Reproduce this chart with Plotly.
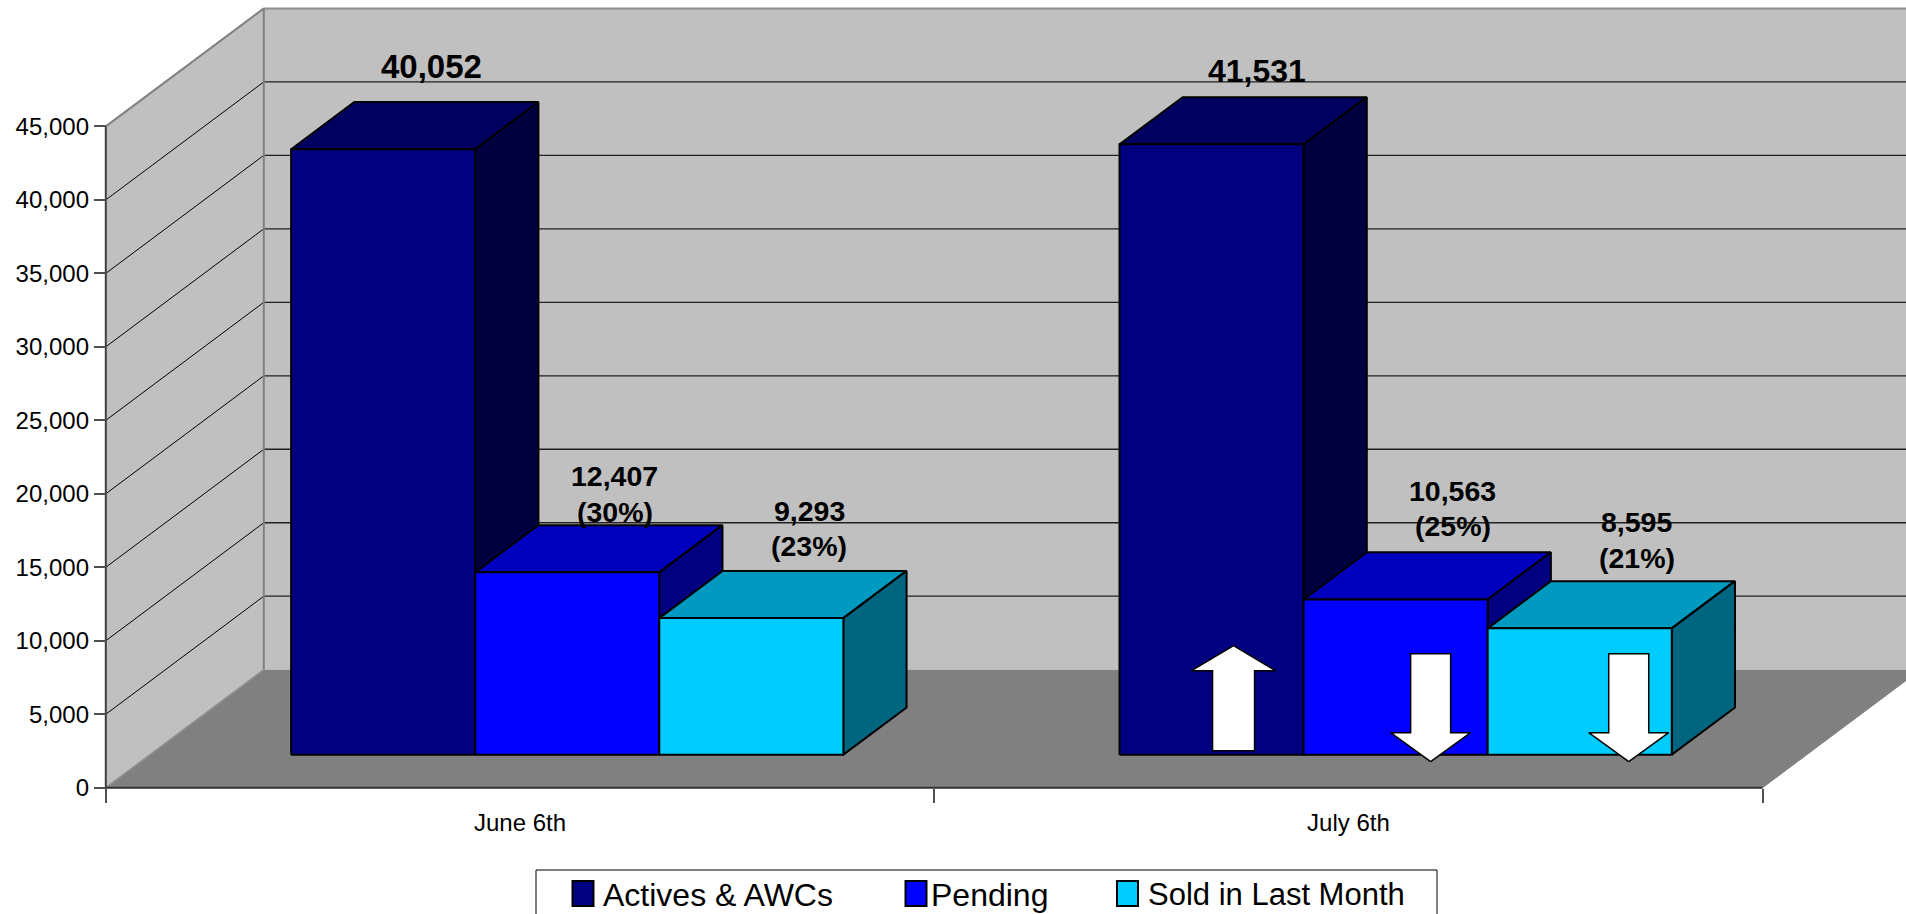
import plotly.graph_objects as go

# ---------- data ----------
categories = ["June 6th", "July 6th"]
series_names = ["Actives & AWCs", "Pending", "Sold in Last Month"]
actives = [41200, 41531]   # June's column is drawn taller than its printed label
pending = [12407, 10563]
sold = [9293, 8595]
actives_labels = ["40,052", "41,531"]
pending_labels = ["12,407<br>(30%)", "10,563<br>(25%)"]
sold_labels = ["9,293<br>(23%)", "8,595<br>(21%)"]
y_ticks = [0, 5000, 10000, 15000, 20000, 25000, 30000, 35000, 40000, 45000]
y_tick_text = ["0", "5,000", "10,000", "15,000", "20,000", "25,000", "30,000", "35,000", "40,000", "45,000"]
july_arrows = ["up", "down", "down"]

# ---------- styles ----------
front_colors = ["#000080", "#0000FF", "#00CCFF"]
top_colors = ["#000060", "#0000BF", "#0099BF"]
side_colors = ["#000040", "#000080", "#006680"]
WALL = "#C0C0C0"
FLOOR = "#808080"
FONT = "Liberation Sans, Arial, sans-serif"

# ---------- layout geometry ----------
W, H = 1906, 914
X0_PX, Y0_PX, Y45_PX = 105.8, 787.7, 126.4
CAT_PX = 828.4
DEPTH_X_PX, DEPTH_Y_PX = 158.0, 118.0
px_per_unit = (Y0_PX - Y45_PX) / 45000.0
DX = DEPTH_X_PX / CAT_PX
DY = DEPTH_Y_PX / px_per_unit
YMAX = 45000
xrange_ = [-X0_PX / CAT_PX, (W - X0_PX) / CAT_PX]
yrange_ = [-(H - Y0_PX) / px_per_unit, Y0_PX / px_per_unit]
BAR_W = 2 / 9
BAR_GAP = 1 / 6 + 3 / CAT_PX
D_FRONT, D_BACK = 0.28, 0.68


def P(x, y, d=0.0):
    return x + d * DX, y + d * DY


fig = go.Figure()


def poly(points, fill, line=None, width=0):
    xs = [p[0] for p in points] + [points[0][0]]
    ys = [p[1] for p in points] + [points[0][1]]
    fig.add_trace(go.Scatter(
        x=xs, y=ys, mode="lines", fill="toself", fillcolor=fill,
        line=dict(color=line or fill, width=width if line else 0),
        showlegend=False, hoverinfo="skip"))


def seg(a, b, color, width):
    fig.add_trace(go.Scatter(
        x=[a[0], b[0]], y=[a[1], b[1]], mode="lines",
        line=dict(color=color, width=width), showlegend=False, hoverinfo="skip"))


# walls and floor
poly([P(0, 0), P(0, YMAX), P(0, YMAX, 1), P(0, 0, 1)], WALL)
poly([P(0, 0, 1), P(0, YMAX, 1), P(2, YMAX, 1), P(2, 0, 1)], WALL)
poly([P(0, 0), P(2, 0), P(2, 0, 1), P(0, 0, 1)], FLOOR)

# gridlines
for t in y_ticks[1:-1]:
    seg(P(0, t), P(0, t, 1), "#000000", 1)
    seg(P(0, t, 1), P(2, t, 1), "#202020", 1.3)

# wall edges
seg(P(0, YMAX), P(0, YMAX, 1), "#808080", 2)
seg(P(0, YMAX, 1), P(2, YMAX, 1), "#909090", 2)
seg(P(0, 0, 1), P(0, YMAX, 1), "#808080", 2)
seg(P(0, 0), P(0, 0, 1), "#909090", 1.5)
seg(P(2, 0), P(2, 0, 1), "#808080", 1)
seg(P(0, 0), P(0, YMAX), "#404040", 2)
seg(P(0, 0), P(2, 0), "#303030", 2)

# columns, back to front
all_series = [actives, pending, sold]
for c in range(len(categories)):
    for s, values in enumerate(all_series):
        v = values[c]
        x1 = c + BAR_GAP + s * BAR_W
        x2 = x1 + BAR_W
        poly([P(x1, v, D_FRONT), P(x2, v, D_FRONT), P(x2, v, D_BACK), P(x1, v, D_BACK)],
             top_colors[s], "#000000", 2)
        poly([P(x2, 0, D_FRONT), P(x2, v, D_FRONT), P(x2, v, D_BACK), P(x2, 0, D_BACK)],
             side_colors[s], "#000000", 2)
        poly([P(x1, 0, D_FRONT), P(x1, v, D_FRONT), P(x2, v, D_FRONT), P(x2, 0, D_FRONT)],
             front_colors[s], "#000000", 2)

# hand-drawn arrows on the July columns (offsets in px from each column's front centre / base)
arrow_shift = [22, 35, 49]
for s, direction in enumerate(july_arrows):
    xc = 1 + BAR_GAP + (s + 0.5) * BAR_W + D_FRONT * DX + arrow_shift[s] / CAT_PX
    yb = D_FRONT * DY

    def A(dx_px, up_px):
        return xc + dx_px / CAT_PX, yb + up_px / px_per_unit

    if direction == "up":
        pts = [A(0, 109), A(42, 84), A(21, 84), A(21, 4), A(-21, 4), A(-21, 84), A(-42, 84)]
    else:
        pts = [A(0, -7), A(40, 22), A(20, 22), A(20, 101), A(-20, 101), A(-20, 22), A(-40, 22)]
    poly(pts, "#FFFFFF", "#000000", 1.5)

# legend entries (one legend per entry, to reproduce the uneven spacing); the legend's
# marker size is capped, so a taller outlined swatch sits underneath each small marker
legend_px = [563, 891, 1108]
legend_sizes = [32, 32, 31]
swatch_px = [583, 916, 1127.5]
for s, name in enumerate(series_names):
    fig.add_trace(go.Scatter(
        x=[None], y=[None], mode="markers", name=name,
        legend="legend" if s == 0 else f"legend{s + 1}",
        marker=dict(symbol="square", size=8, color=front_colors[s], line=dict(width=0))))

# data labels: (category, series, text, font size, x shift, y shift)
label_specs = [
    (0, 0, actives_labels[0], 33, 40, 15),
    (1, 0, actives_labels[1], 32, 37, 6.5),
    (0, 1, pending_labels[0], 28.5, 39, -4.5),
    (1, 1, pending_labels[1], 28.5, 47, 7.8),
    (0, 2, sold_labels[0], 28.5, 47.5, 6.6),
    (1, 2, sold_labels[1], 28.5, 47, 5.4),
]
LINE_PX = 35.5
annotations = []
for c, s, text, size, shift_x, shift_y in label_specs:
    v = all_series[s][c]
    ax, ay = P(c + BAR_GAP + (s + 0.5) * BAR_W, v, D_BACK)
    for i, line in enumerate(reversed(text.split("<br>"))):
        annotations.append(dict(
            x=ax - D_BACK * DX + D_FRONT * DX + shift_x * 1.2156 / CAT_PX, y=ay,
            xref="x", yref="y", text=f"<b>{line}</b>", showarrow=False,
            xanchor="center", yanchor="bottom",
            yshift=shift_y + i * LINE_PX, font=dict(family=FONT, size=size, color="#000000")))


def legend_cfg(i):
    return dict(
        orientation="h", yanchor="middle", y=(H - 893.5) / H, xanchor="left",
        x=legend_px[i] / W, bgcolor="rgba(0,0,0,0)", borderwidth=0, itemsizing="trace",
        font=dict(family=FONT, size=legend_sizes[i], color="#000000"),
        itemclick=False, itemdoubleclick=False)


shapes = [dict(type="rect", xref="paper", yref="paper", x0=536 / W, x1=1437 / W,
               y0=-0.02, y1=(H - 870) / H, line=dict(color="#000000", width=1),
               fillcolor="#FFFFFF", layer="above")]
for s, cx in enumerate(swatch_px):
    shapes.append(dict(type="rect", xref="paper", yref="paper",
                       x0=(cx - 10.5) / W, x1=(cx + 10.5) / W,
                       y0=(H - 893.5 - 12.5) / H, y1=(H - 893.5 + 12.5) / H,
                       line=dict(color="#000000", width=2),
                       fillcolor=front_colors[s], layer="above"))

fig.update_layout(
    width=W, height=H, margin=dict(l=0, r=0, t=0, b=0, autoexpand=False),
    paper_bgcolor="#FFFFFF", plot_bgcolor="#FFFFFF", hovermode=False,
    font=dict(family=FONT, color="#000000"),
    xaxis=dict(
        range=xrange_, domain=[0, 1], anchor="free", position=(H - Y0_PX) / H,
        tickmode="array", tickvals=[0.5, 1.5], ticktext=categories, ticks="",
        ticklabelstandoff=18, tickfont=dict(family=FONT, size=24, color="#000000"),
        showgrid=False, zeroline=False, showline=False, fixedrange=True,
        minor=dict(tickmode="array", tickvals=[0, 1, 2], ticks="outside", ticklen=14,
                   tickcolor="#505050", tickwidth=2, showgrid=False)),
    yaxis=dict(
        range=yrange_, domain=[0, 1], anchor="free", position=X0_PX / W,
        tickmode="array", tickvals=y_ticks, ticktext=y_tick_text, ticks="outside",
        ticklen=12, tickwidth=2, tickcolor="#505050",
        tickfont=dict(family=FONT, size=24, color="#000000"),
        showgrid=False, zeroline=False, showline=False, fixedrange=True),
    legend=legend_cfg(0),
    legend2=legend_cfg(1),
    legend3=legend_cfg(2),
    annotations=annotations,
    shapes=shapes,
)

fig.write_html("out.html", config={"displayModeBar": False},
               post_script="document.body.style.margin='0';document.documentElement.style.overflow='hidden';")
